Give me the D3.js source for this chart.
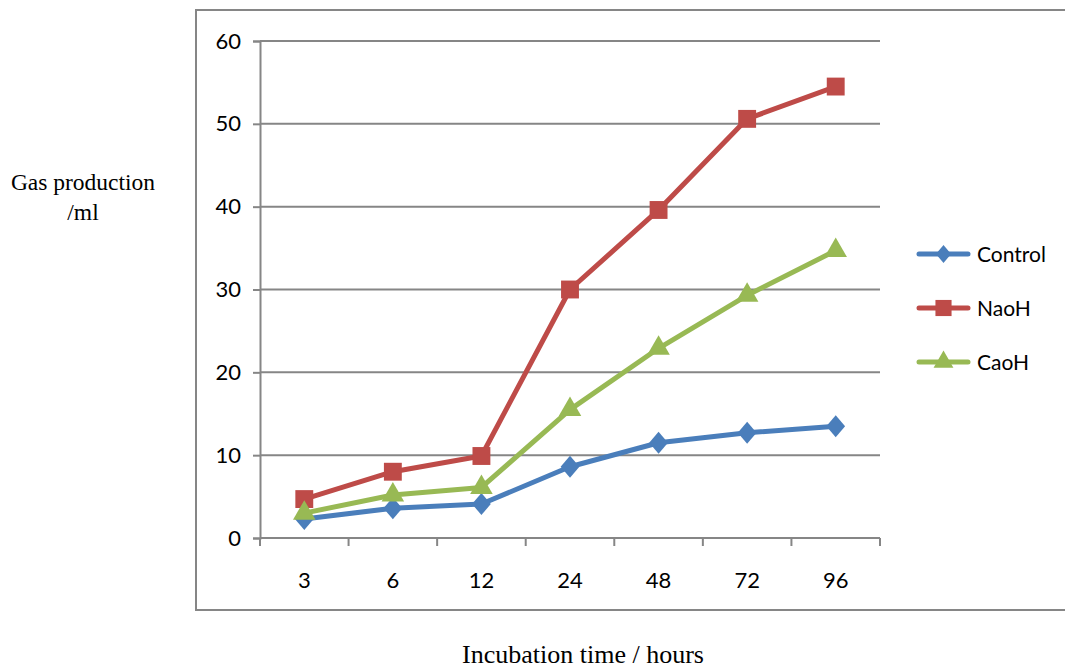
<!DOCTYPE html>
<html><head><meta charset="utf-8">
<script src="https://cdn.jsdelivr.net/npm/d3@7"></script>
<style>body{margin:0;background:#fff}</style>
</head><body>
<svg id="c" width="1065" height="669"></svg>
<script>
const categories = ["3","6","12","24","48","72","96"];
const control = [2.3, 3.6, 4.1, 8.6, 11.5, 12.7, 13.5];
const naoh = [4.7, 8.0, 9.9, 30.0, 39.6, 50.6, 54.5];
const caoh = [3.0, 5.2, 6.1, 15.5, 22.9, 29.3, 34.7];
const yTicks = [0,10,20,30,40,50,60];
const seriesNames = ["Control","NaoH","CaoH"];

const series = [
  {name: seriesNames[0], values: control, color: "#4a7ebb", sym: "diamond"},
  {name: seriesNames[1], values: naoh, color: "#be4b48", sym: "square"},
  {name: seriesNames[2], values: caoh, color: "#98b954", sym: "triangle"}
];

const svg = d3.select("#c");
const L = 260, R = 880, T = 41, B = 538;
const x = d3.scaleBand().domain(categories).range([L, R]);
const y = d3.scaleLinear().domain([0, 60]).range([B, T]);
const grid = "#868686";
const labelFont = "Lato, 'Open Sans', sans-serif";

// outer frame
svg.append("rect").attr("x",196).attr("y",10).attr("width",900).attr("height",600)
  .attr("fill","none").attr("stroke",grid).attr("stroke-width",2);

// gridlines
svg.append("g").selectAll("line").data(yTicks.filter(d=>d>0)).join("line")
  .attr("x1",L).attr("x2",R).attr("y1",d=>y(d)).attr("y2",d=>y(d))
  .attr("stroke",grid).attr("stroke-width",2);

// y axis
const ya = svg.append("g").attr("transform",`translate(${L},0)`)
  .call(d3.axisLeft(y).tickValues(yTicks).tickSize(7).tickPadding(12));
ya.select(".domain").attr("stroke",grid).attr("stroke-width",2);
ya.selectAll(".tick line").attr("stroke",grid).attr("stroke-width",2);
ya.selectAll(".tick text").attr("font-family",labelFont).attr("font-size",22).attr("fill","#000");

// x axis
const xa = svg.append("g").attr("transform",`translate(0,${B})`)
  .call(d3.axisBottom(x).tickSize(0).tickPadding(34));
xa.select(".domain").remove();
xa.selectAll(".tick text").attr("font-family",labelFont).attr("font-size",22).attr("fill","#000");
svg.append("line").attr("x1",L).attr("x2",R).attr("y1",B).attr("y2",B).attr("stroke",grid).attr("stroke-width",2);
const bounds = categories.map(c=>x(c)).concat([R]);
svg.append("g").selectAll("line").data(bounds).join("line")
  .attr("x1",d=>d).attr("x2",d=>d).attr("y1",B).attr("y2",B+8)
  .attr("stroke",grid).attr("stroke-width",2);

// custom wide diamond
const wideDiamond = {draw(ctx, size){
  const h = Math.sqrt(size) * 0.78, w = h * 0.85;
  ctx.moveTo(0,-h); ctx.lineTo(w,0); ctx.lineTo(0,h); ctx.lineTo(-w,0); ctx.closePath();
}};
const symType = {diamond: wideDiamond, square: d3.symbolSquare, triangle: d3.symbolTriangle};
const symSize = {diamond: 200, square: 320, triangle: 220};
const legSize = {diamond: 130, square: 260, triangle: 170};
const line = d3.line().x((d,i)=>x(categories[i])+x.bandwidth()/2).y(d=>y(d));

series.forEach(s=>{
  svg.append("path").attr("d",line(s.values)).attr("fill","none")
    .attr("stroke",s.color).attr("stroke-width",5).attr("stroke-linejoin","round").attr("stroke-linecap","round");
  svg.append("g").selectAll("path").data(s.values).join("path")
    .attr("d", d3.symbol().type(symType[s.sym]).size(symSize[s.sym]))
    .attr("transform",(d,i)=>`translate(${x(categories[i])+x.bandwidth()/2},${y(d)})`)
    .attr("fill",s.color);
});

// legend
const lg = svg.append("g");
series.forEach((s,i)=>{
  const ly = 254 + i*54;
  lg.append("line").attr("x1",919).attr("x2",968).attr("y1",ly).attr("y2",ly)
    .attr("stroke",s.color).attr("stroke-width",5).attr("stroke-linecap","round");
  lg.append("path").attr("d", d3.symbol().type(symType[s.sym]).size(legSize[s.sym])())
    .attr("transform",`translate(943.5,${ly})`).attr("fill",s.color);
  lg.append("text").attr("x",977).attr("y",ly).attr("dy","0.36em")
    .attr("font-family",labelFont).attr("font-size",21).attr("fill","#000").text(s.name);
});

// axis titles
const tf = "'Liberation Serif', 'Times New Roman', serif";
svg.append("text").attr("x",83).attr("y",190).attr("text-anchor","middle")
  .attr("font-family",tf).attr("font-size",23.5).text("Gas production");
svg.append("text").attr("x",83).attr("y",220).attr("text-anchor","middle")
  .attr("font-family",tf).attr("font-size",23.5).text("/ml");
svg.append("text").attr("x",583).attr("y",663).attr("text-anchor","middle")
  .attr("font-family",tf).attr("font-size",26).text("Incubation time / hours");
</script>
</body></html>
